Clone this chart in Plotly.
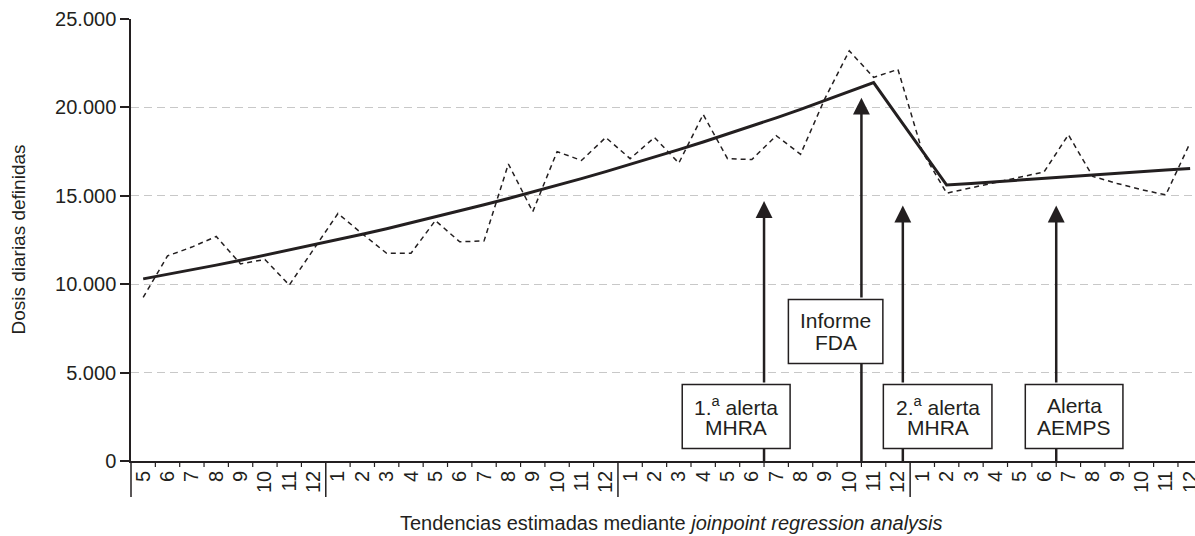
import plotly.graph_objects as go

# ---------------- data ----------------
year1_months = ["5", "6", "7", "8", "9", "10", "11", "12"]
year2_months = ["1", "2", "3", "4", "5", "6", "7", "8", "9", "10", "11", "12"]
year3_months = ["1", "2", "3", "4", "5", "6", "7", "8", "9", "10", "11", "12"]
year4_months = ["1", "2", "3", "4", "5", "6", "7", "8", "9", "10", "11", "12"]
month_labels = year1_months + year2_months + year3_months + year4_months

observed_ddd = [9250, 11600, 12100, 12700, 11150, 11400, 9950, 12000,
                14000, 12850, 11750, 11750, 13600, 12400, 12450, 16800, 14100, 17500, 17000, 18300,
                17100, 18300, 16850, 19600, 17100, 17050, 18400, 17350, 20500, 23200, 21700, 22150,
                17500, 15150, 15450, 15750, 16050, 16350, 18450, 16100, 15700, 15350, 15050, 18000]

trend_ddd = [10300, 10550, 10810, 11080, 11350, 11640, 11920, 12220,
             12520, 12830, 13140, 13470, 13800, 14140, 14490, 14850, 15210, 15590, 15970, 16370,
             16770, 17190, 17610, 18040, 18490, 18950, 19410, 19890, 20380, 20890, 21400, 19470,
             17540, 15610, 15700, 15800, 15890, 15990, 16080, 16170, 16270, 16360, 16460, 16550]

y_tick_values = [0, 5000, 10000, 15000, 20000, 25000]
y_tick_labels = ["0", "5.000", "10.000", "15.000", "20.000", "25.000"]

event_line1 = ["1.<sup>a</sup> alerta", "Informe", "2.<sup>a</sup> alerta", "Alerta"]
event_line2 = ["MHRA", "FDA", "MHRA", "AEMPS"]
event_month_pos = [25.5, 29.5, 31.2, 37.5]
event_arrow_tip = [14700, 20550, 14450, 14450]

# ---------------- layout constants (box geometry) ----------------
box_x0 = [22.14, 26.50, 30.40, 36.23]
box_x1 = [26.57, 30.38, 34.86, 40.24]
box_y0 = [700, 5510, 700, 700]
box_y1 = [4320, 9135, 4320, 4320]

DARK = "#231f20"
FONT = "Liberation Sans, Arial, sans-serif"
PLOT_H = 442.0

x = list(range(len(month_labels)))

fig = go.Figure()
fig.add_trace(go.Scatter(x=x, y=observed_ddd, mode="lines",
                         line=dict(color=DARK, width=1.5, dash="5px,4px"),
                         showlegend=False, hoverinfo="skip"))
fig.add_trace(go.Scatter(x=x, y=trend_ddd, mode="lines",
                         line=dict(color=DARK, width=3),
                         showlegend=False, hoverinfo="skip"))

shapes = []
# boundary ticks under the x axis
for i in range(len(month_labels) - 1):
    b = i + 0.5
    year_break = month_labels[i] == "12" and month_labels[i + 1] == "1"
    depth = 36 if year_break else 6
    shapes.append(dict(type="line", xref="x", yref="paper", x0=b, x1=b,
                       y0=0, y1=-depth / PLOT_H,
                       line=dict(color=DARK, width=1.5 if year_break else 1.2)))
# y axis extension below the baseline
shapes.append(dict(type="line", xref="paper", yref="paper", x0=0, x1=0,
                   y0=-36 / PLOT_H, y1=0, line=dict(color=DARK, width=1.5)))

annotations = []
for k in range(len(event_line1)):
    ex = event_month_pos[k]
    # stem from baseline to box bottom
    shapes.append(dict(type="line", xref="x", yref="y", x0=ex, x1=ex, y0=0, y1=box_y0[k],
                       line=dict(color=DARK, width=2.5)))
    # box
    shapes.append(dict(type="rect", xref="x", yref="y", x0=box_x0[k], x1=box_x1[k],
                       y0=box_y0[k], y1=box_y1[k], fillcolor="white",
                       line=dict(color=DARK, width=1.5)))
    # arrow from box top to tip
    annotations.append(dict(x=ex, y=event_arrow_tip[k], ax=ex, ay=box_y1[k],
                            xref="x", yref="y", axref="x", ayref="y", text=" ",
                            showarrow=True, arrowhead=2, arrowsize=1.35, arrowwidth=2.5,
                            arrowcolor=DARK, standoff=0, startstandoff=0,
                            font=dict(size=1)))
    cx = (box_x0[k] + box_x1[k]) / 2
    cy = (box_y0[k] + box_y1[k]) / 2
    annotations.append(dict(x=cx, y=cy, xref="x", yref="y", text=event_line1[k],
                            showarrow=False, yshift=11, xanchor="center", yanchor="middle",
                            font=dict(family=FONT, size=21, color=DARK)))
    annotations.append(dict(x=cx, y=cy, xref="x", yref="y", text=event_line2[k],
                            showarrow=False, yshift=-11, xanchor="center", yanchor="middle",
                            font=dict(family=FONT, size=21, color=DARK)))

annotations.append(dict(x=-0.1066, y=0.5, xref="paper", yref="paper",
                        text="Dosis diarias definidas", textangle=-90, showarrow=False,
                        xanchor="center", yanchor="middle",
                        font=dict(family=FONT, size=19, color=DARK)))
annotations.append(dict(x=0.5078, y=-0.1413, xref="paper", yref="paper",
                        text="Tendencias estimadas mediante <i>joinpoint regression analysis</i>",
                        showarrow=False, xanchor="center", yanchor="middle",
                        font=dict(family=FONT, size=20, color=DARK)))

fig.update_layout(
    width=1195, height=536, autosize=False,
    margin=dict(l=131, r=0, t=19, b=75, autoexpand=False),
    paper_bgcolor="white", plot_bgcolor="white",
    font=dict(family=FONT, size=20, color=DARK),
    shapes=shapes, annotations=annotations,
    xaxis=dict(range=[-0.5, 43.2], tickmode="array", tickvals=x, ticktext=month_labels,
               tickangle=-90, ticks="", showgrid=False, zeroline=False, automargin=False,
               ticklabeloverflow="allow",
               showline=True, linecolor=DARK, linewidth=1.5,
               tickfont=dict(family=FONT, size=20, color=DARK)),
    yaxis=dict(range=[0, 25000], tickmode="array", tickvals=y_tick_values, ticktext=y_tick_labels,
               ticks="outside", ticklen=9, tickwidth=1.5, tickcolor=DARK, automargin=False,
               showgrid=True, gridcolor="#c8c8c8", gridwidth=1.3, griddash="8px,5px",
               zeroline=False, showline=True, linecolor=DARK, linewidth=1.5,
               tickfont=dict(family=FONT, size=20, color=DARK)),
)

fig.write_html("out.html", config={"displayModeBar": False},
               post_script="document.body.style.margin='0';document.body.style.overflow='hidden';")
